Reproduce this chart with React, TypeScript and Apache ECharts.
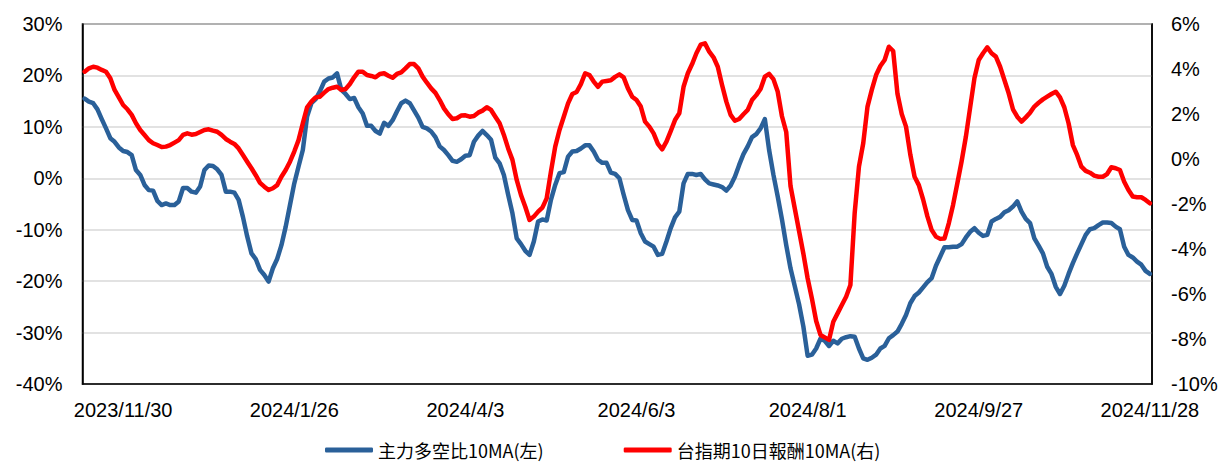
import React, { useEffect, useRef } from "react";
import * as echarts from "echarts";

// 主力多空比10MA (左軸, %)
const ratioMA: number[] = [
  15.5, 14.9, 14.6, 13.4, 11.5, 9.7, 7.8, 7.1, 6.0, 5.3,
  5.1, 4.5, 1.6, 0.65, -1.3, -2.3, -2.4, -4.4, -5.2, -4.9,
  -5.2, -5.2, -4.5, -1.9, -1.9, -2.6, -2.8, -1.6, 1.6, 2.5,
  2.4, 1.75, 0.65, -2.6, -2.6, -2.8, -4.2, -7.5, -11.3, -14.6,
  -15.7, -17.8, -18.8, -20.1, -17.5, -15.7, -13.0, -9.4, -5.2, -1.0,
  2.3, 5.5, 12.0, 14.6, 15.4, 16.9, 18.8, 19.4, 19.6, 20.4,
  17.2, 16.4, 15.4, 15.6, 13.8, 12.6, 10.2, 10.2, 9.2, 8.7,
  10.8, 10.2, 11.3, 13.0, 14.6, 15.1, 14.6, 13.2, 11.8, 10.0,
  9.7, 9.1, 8.0, 6.2, 5.5, 4.5, 3.4, 3.2, 3.7, 4.4,
  4.5, 7.1, 8.3, 9.2, 8.4, 7.5, 4.0, 2.9, 0.65, -3.2,
  -6.8, -11.7, -12.8, -14.1, -14.9, -12.3, -8.4, -8.0, -8.2, -4.2,
  -1.3, 1.0, 1.2, 4.2, 5.2, 5.3, 5.8, 6.4, 6.4, 5.2,
  3.6, 3.0, 3.0, 1.1, 0.85, 0.0, -3.2, -6.2, -8.1, -8.2,
  -10.7, -12.3, -12.8, -13.3, -14.9, -14.7, -12.3, -9.7, -7.6, -6.5,
  -1.0, 0.85, 0.85, 0.65, 0.85, -0.2, -1.0, -1.2, -1.4, -1.7,
  -2.4, -1.4, 0.3, 2.6, 4.7, 6.2, 8.0, 8.6, 9.7, 11.5,
  5.5, 0.7, -3.5, -8.0, -13.0, -17.5, -21.0, -24.5, -28.8, -34.5,
  -34.3, -33.1, -31.2, -31.6, -32.6, -31.6, -32.1, -31.2, -30.9, -30.7,
  -30.8, -33.1, -35.0, -35.3, -34.9, -34.3, -33.1, -32.6, -31.1, -30.5,
  -29.8, -28.3, -26.6, -24.3, -22.9, -22.2, -21.2, -20.2, -19.4, -17.0,
  -15.2, -13.4, -13.4, -13.3, -13.3, -12.8, -11.5, -10.4, -9.7, -10.6,
  -11.2, -11.0, -8.4, -7.9, -7.5, -6.6, -6.2, -5.5, -4.5, -6.5,
  -7.9, -8.7, -11.7, -13.1, -14.6, -17.2, -18.6, -21.1, -22.5, -20.9,
  -18.6, -16.5, -14.6, -12.8, -11.0, -9.9, -9.7, -9.1, -8.6, -8.6,
  -8.7, -9.4, -9.9, -13.3, -14.9, -15.4, -16.2, -16.8, -18.0, -18.6,
];

// 台指期10日報酬10MA (右軸, %)
const returnMA: number[] = [
  3.88, 4.03, 4.10, 4.06, 3.96, 3.88, 3.59, 3.07, 2.74, 2.40,
  2.21, 1.96, 1.59, 1.29, 1.07, 0.84, 0.70, 0.62, 0.53, 0.55,
  0.62, 0.73, 0.84, 1.07, 1.14, 1.08, 1.11, 1.20, 1.29, 1.32,
  1.26, 1.21, 1.07, 0.89, 0.77, 0.67, 0.47, 0.18, -0.12, -0.41,
  -0.72, -1.06, -1.23, -1.38, -1.30, -1.16, -0.79, -0.49, -0.12, 0.33,
  0.84, 1.59, 2.30, 2.55, 2.74, 2.77, 2.95, 3.11, 3.17, 3.21,
  3.07, 3.11, 3.33, 3.63, 3.88, 3.88, 3.73, 3.69, 3.63, 3.78,
  3.81, 3.70, 3.61, 3.78, 3.85, 4.03, 4.22, 4.22, 4.03, 3.66,
  3.39, 3.14, 2.94, 2.62, 2.25, 1.99, 1.78, 1.81, 1.93, 1.94,
  1.88, 1.91, 2.06, 2.15, 2.30, 2.18, 1.88, 1.59, 1.07, 0.47,
  -0.04, -0.93, -1.60, -2.12, -2.71, -2.56, -2.34, -2.16, -1.75, -0.56,
  0.55, 1.29, 1.88, 2.47, 2.89, 2.98, 3.33, 3.81, 3.73, 3.44,
  3.21, 3.44, 3.47, 3.50, 3.65, 3.76, 3.63, 3.14, 2.77, 2.62,
  2.33, 1.66, 1.44, 1.14, 0.67, 0.43, 0.77, 1.24, 1.73, 2.03,
  3.21, 3.81, 4.22, 4.70, 5.08, 5.14, 4.77, 4.52, 4.10, 3.29,
  2.55, 1.96, 1.70, 1.78, 1.99, 2.18, 2.62, 2.84, 3.11, 3.66,
  3.78, 3.55, 3.00, 1.90, 1.20, -1.20, -2.20, -3.20, -4.20, -5.30,
  -6.20, -7.20, -7.82, -7.93, -8.04, -7.23, -6.86, -6.49, -6.12, -5.60,
  -2.40, -0.34, 0.70, 2.33, 3.07, 3.73, 4.13, 4.40, 4.99, 4.80,
  2.90, 2.00, 1.44, 0.20, -0.79, -1.16, -1.80, -2.55, -3.16, -3.45,
  -3.55, -3.53, -2.86, -2.04, -1.08, -0.10, 1.00, 2.30, 3.60, 4.40,
  4.70, 4.96, 4.70, 4.55, 4.10, 3.51, 2.92, 2.21, 1.88, 1.66,
  1.85, 2.06, 2.33, 2.50, 2.65, 2.77, 2.89, 2.99, 2.74, 2.30,
  1.59, 0.62, 0.18, -0.34, -0.53, -0.61, -0.74, -0.79, -0.79, -0.67,
  -0.37, -0.41, -0.49, -1.01, -1.38, -1.67, -1.70, -1.70, -1.82, -1.97,
];

// x-axis tick labels and the category index they sit on (one label every 40 trading days)
const tickLabels: string[] = [
  "2023/11/30", "2024/1/26", "2024/4/3", "2024/6/3", "2024/8/1", "2024/9/27", "2024/11/28",
];
const tickIndices: number[] = [9, 49, 89, 129, 169, 209, 249];

const categories: string[] = ratioMA.map((_, i) => String(i));

const seriesNames = ["主力多空比10MA(左)", "台指期10日報酬10MA(右)"];
const seriesColors = ["#2A6099", "#FF0000"];

const LATIN = "'Liberation Sans', Arial, sans-serif";
const CJK = "'Noto Sans CJK TC', 'Noto Sans CJK SC', sans-serif";

export default function App() {
  const ref = useRef<HTMLDivElement>(null);

  useEffect(() => {
    if (!ref.current) return;
    const chart = echarts.init(ref.current, undefined, { renderer: "svg" });
    chart.setOption({
      animation: false,
      backgroundColor: "#ffffff",
      grid: {
        left: 82.5,
        right: 69,
        top: 24,
        bottom: 80,
        show: true,
        borderColor: "#000000",
        borderWidth: 1.5,
        containLabel: false,
      },
      legend: {
        left: 325,
        top: 441,
        padding: 0,
        itemWidth: 48,
        itemHeight: 5,
        itemGap: 80,
        icon: "roundRect",
        textStyle: { fontFamily: CJK, fontSize: 18, color: "#000", lineHeight: 18 },
        data: seriesNames,
      },
      xAxis: {
        type: "category",
        data: categories,
        boundaryGap: true,
        axisLine: { show: true, onZero: false, lineStyle: { color: "#000", width: 1.5 } },
        axisTick: { show: false },
        splitLine: { show: false },
        axisLabel: {
          interval: (index: number) => tickIndices.indexOf(index) >= 0,
          formatter: (_v: string, index: number) => {
            const k = tickIndices.indexOf(index);
            return k >= 0 ? tickLabels[k] : "";
          },
          fontFamily: LATIN,
          fontSize: 20,
          color: "#000",
          margin: 16,
        },
      },
      yAxis: [
        {
          type: "value",
          min: -40,
          max: 30,
          interval: 10,
          position: "left",
          axisLine: { show: true, lineStyle: { color: "#000", width: 1.5 } },
          axisTick: { show: false },
          splitLine: { show: true, lineStyle: { color: "#d9d9d9", width: 1.5 } },
          axisLabel: {
            formatter: "{value}%",
            fontFamily: LATIN,
            fontSize: 20,
            color: "#000",
            margin: 20,
          },
        },
        {
          type: "value",
          min: -10,
          max: 6,
          interval: 2,
          position: "right",
          axisLine: { show: true, lineStyle: { color: "#000", width: 1.5 } },
          axisTick: { show: false },
          splitLine: { show: false },
          axisLabel: {
            formatter: "{value}%",
            fontFamily: LATIN,
            fontSize: 20,
            color: "#000",
            margin: 19,
          },
        },
      ],
      series: [
        {
          name: seriesNames[0],
          type: "line",
          yAxisIndex: 0,
          data: ratioMA,
          symbol: "none",
          showSymbol: false,
          color: seriesColors[0],
          lineStyle: { color: seriesColors[0], width: 4.5, join: "round", cap: "round" },
        },
        {
          name: seriesNames[1],
          type: "line",
          yAxisIndex: 1,
          data: returnMA,
          symbol: "none",
          showSymbol: false,
          color: seriesColors[1],
          lineStyle: { color: seriesColors[1], width: 4.5, join: "round", cap: "round" },
        },
      ],
    });
    return () => chart.dispose();
  }, []);

  return (
    <div
      ref={ref}
      style={{ position: "absolute", left: 0, top: 0, width: 1221, height: 464, background: "#fff" }}
    />
  );
}
